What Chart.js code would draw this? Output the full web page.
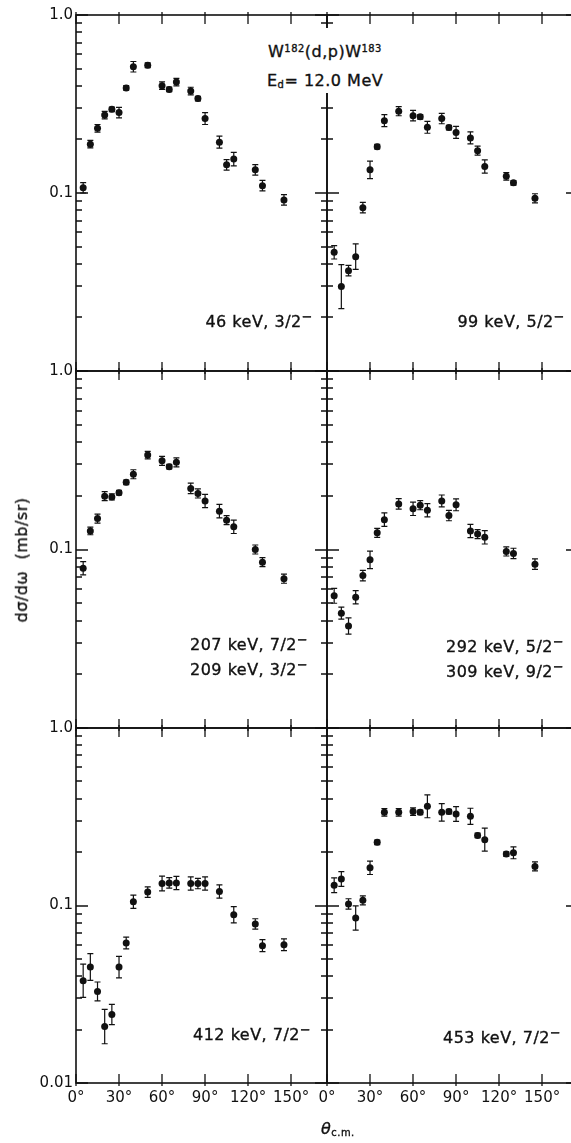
<!DOCTYPE html>
<html>
<head>
<meta charset="utf-8">
<script src="https://cdn.jsdelivr.net/npm/chart.js@4.4.1/dist/chart.umd.min.js"></script>
<style>
  html, body { margin: 0; padding: 0; background: #fff; }
  body { width: 571px; height: 1143px; overflow: hidden; position: relative;
         font-family: 'DejaVu Sans', sans-serif; color: #111; }
  canvas { position: absolute; }
  .lbl { position: absolute; font-size: 16px; letter-spacing: 0.5px; white-space: nowrap; line-height: 16px;
         -webkit-text-stroke: 0.35px #111; }
  .lbl sup { font-size: 0.8em; vertical-align: 0.45em; line-height: 0; }
  .ttl sup { font-size: 0.62em; vertical-align: 0.55em; line-height: 0; }
  .ttl sub { font-size: 0.62em; vertical-align: -0.25em; line-height: 0; }
  #titleBox { position: absolute; left: 262px; top: 28px; width: 130px; height: 65px; background: #fff; }
</style>
</head>
<body>
<canvas id="p46"></canvas>
<canvas id="p99"></canvas>
<canvas id="p207"></canvas>
<canvas id="p292"></canvas>
<canvas id="p412"></canvas>
<canvas id="p453"></canvas>

<div id="titleBox"></div>
<div class="lbl ttl" style="left:268px; top:44px;">W<sup>182</sup>(d,p)W<sup>183</sup></div>
<div class="lbl ttl" style="left:267px; top:73px;">E<sub>d</sub>= 12.0 MeV</div>

<div class="lbl" style="right:258px; top:314px;">46 keV, 3/2<sup>−</sup></div>
<div class="lbl" style="right:6px; top:314px;">99 keV, 5/2<sup>−</sup></div>
<div class="lbl" style="left:190px; top:637px;">207 keV, 7/2<sup>−</sup></div>
<div class="lbl" style="left:190px; top:662px;">209 keV, 3/2<sup>−</sup></div>
<div class="lbl" style="left:446px; top:639px;">292 keV, 5/2<sup>−</sup></div>
<div class="lbl" style="left:446px; top:664px;">309 keV, 9/2<sup>−</sup></div>
<div class="lbl" style="left:193px; top:1027px;">412 keV, 7/2<sup>−</sup></div>
<div class="lbl" style="left:443px; top:1030px;">453 keV, 7/2<sup>−</sup></div>

<div class="lbl" style="left:22px; top:560px; transform: translate(-50%,-50%) rotate(-90deg);">dσ/dω&nbsp;&nbsp;(mb/sr)</div>
<div class="lbl ttl" style="left:321px; top:1121px;"><i>θ</i><sub>c.m.</sub></div>

<script>
// angles (deg, c.m.)
const anglesA = [5, 10, 15, 20, 25, 30, 35, 40, 50, 60, 65, 70, 80, 85, 90, 100, 105, 110, 125, 130, 145];
const anglesB = [5, 10, 15, 20, 25, 30, 35, 40, 50, 60, 65, 70, 80, 85, 90, 100, 110, 125, 130, 145];

// cross sections (mb/sr) and errors (%)
const level46  = [0.107, 0.188, 0.231, 0.274, 0.295, 0.283, 0.389, 0.512, 0.522, 0.401, 0.382, 0.420, 0.374, 0.339, 0.262, 0.193, 0.144, 0.155, 0.135, 0.110, 0.0914];
const err46    = [7, 5, 5, 5, 3, 7, 3, 7, 3, 5, 3, 5, 5, 3, 8, 8, 7, 9, 7, 7, 7];
const level99  = [0.0464, 0.0298, 0.0366, 0.0439, 0.0827, 0.135, 0.182, 0.255, 0.288, 0.272, 0.268, 0.234, 0.262, 0.233, 0.219, 0.204, 0.173, 0.141, 0.124, 0.114, 0.0934];
const err99    = [9, 33, 7, 18, 7, 12, 3, 8, 6, 7, 3, 8, 7, 3, 8, 8, 6, 9, 5, 3, 6];
const level207 = [0.0785, 0.127, 0.149, 0.199, 0.197, 0.208, 0.238, 0.264, 0.338, 0.314, 0.291, 0.308, 0.220, 0.206, 0.187, 0.164, 0.146, 0.134, 0.100, 0.0849, 0.0686];
const err207   = [9, 5, 6, 6, 4, 3, 3, 6, 5, 6, 3, 6, 7, 6, 9, 9, 6, 9, 6, 6, 6];
const level292 = [0.0550, 0.0440, 0.0373, 0.0540, 0.0714, 0.0875, 0.124, 0.147, 0.180, 0.169, 0.177, 0.166, 0.187, 0.155, 0.178, 0.127, 0.122, 0.117, 0.0975, 0.0950, 0.0828];
const err292   = [10, 8, 11, 9, 7, 12, 6, 9, 7, 9, 6, 9, 8, 7, 8, 9, 6, 9, 6, 7, 7];
const level412 = [0.0377, 0.0450, 0.0328, 0.0208, 0.0243, 0.0450, 0.0615, 0.105, 0.119, 0.133, 0.134, 0.134, 0.133, 0.133, 0.133, 0.120, 0.0887, 0.0787, 0.0594, 0.0601];
const err412   = [24, 19, 13, 25, 14, 15, 8, 9, 7, 10, 7, 9, 9, 7, 9, 9, 11, 7, 8, 8];
const level453 = [0.130, 0.141, 0.102, 0.0851, 0.107, 0.163, 0.227, 0.335, 0.335, 0.338, 0.335, 0.362, 0.335, 0.338, 0.328, 0.318, 0.248, 0.235, 0.195, 0.198, 0.166];
const err453   = [10, 10, 7, 17, 6, 9, 3, 5, 5, 5, 3, 16, 12, 3, 10, 11, 3, 16, 3, 8, 6];

// ticks
const yTickValues = [0.01, 0.02, 0.03, 0.04, 0.05, 0.06, 0.07, 0.08, 0.09,
                     0.1, 0.2, 0.3, 0.4, 0.5, 0.6, 0.7, 0.8, 0.9, 1];
const yLabelAt = [1, 0.1, 0.01];
const yTickLabels = ['1.0', '0.1', '0.01'];
const xTickValues = [0, 30, 60, 90, 120, 150];
const xTickLabels = ['0°', '30°', '60°', '90°', '120°', '150°'];

const ink = '#111';
const tickFont = { family: 'DejaVu Sans', size: 15 };

const framePlugin = {
  id: 'frame',
  afterDraw(chart) {
    const { ctx, chartArea: a } = chart;
    const x = chart.scales.x, y = chart.scales.y;
    ctx.save();
    ctx.strokeStyle = ink;
    ctx.lineWidth = 1.6;
    ctx.strokeRect(a.left, a.top, a.right - a.left, a.bottom - a.top);
    ctx.lineWidth = 1.3;
    ctx.beginPath();
    yTickValues.forEach(v => {
      const py = Math.round(y.getPixelForValue(v));
      const len = yLabelAt.includes(v) ? 12 : 6;
      ctx.moveTo(a.left, py); ctx.lineTo(a.left + len, py);
      ctx.moveTo(a.right, py); ctx.lineTo(a.right - len, py);
    });
    xTickValues.forEach(v => {
      const px = Math.round(x.getPixelForValue(v));
      ctx.moveTo(px, a.top - 3); ctx.lineTo(px, a.top + 9);
      ctx.moveTo(px, a.bottom + 3); ctx.lineTo(px, a.bottom - 9);
    });
    ctx.stroke();
    ctx.restore();
  }
};

const errorBars = {
  id: 'errorBars',
  beforeDatasetsDraw(chart, args, opts) {
    const { ctx } = chart;
    const x = chart.scales.x, y = chart.scales.y;
    const pts = chart.data.datasets[0].data;
    ctx.save();
    ctx.strokeStyle = ink;
    ctx.lineWidth = 1.2;
    ctx.beginPath();
    pts.forEach((p, i) => {
      const r = opts.errs[i] / 100;
      const px = x.getPixelForValue(p.x);
      const hi = y.getPixelForValue(p.y * (1 + r));
      const lo = y.getPixelForValue(p.y / (1 + r));
      ctx.moveTo(px, hi); ctx.lineTo(px, lo);
      ctx.moveTo(px - 3, hi); ctx.lineTo(px + 3, hi);
      ctx.moveTo(px - 3, lo); ctx.lineTo(px + 3, lo);
    });
    ctx.stroke();
    ctx.restore();
  }
};

const colL = { left: 76, right: 327 };
const colR = { left: 327, right: 578 };
const rows = [{ top: 15, bottom: 371 }, { top: 371, bottom: 728 }, { top: 728, bottom: 1083 }];

function makePanel(id, col, row, angles, values, errs) {
  const isLeft = col === colL;
  const isBottom = row === rows[2];
  const pad = 12;
  const padL = isLeft ? 0 : 24;
  const axisH = 32;
  const cLeft = col.left - (isLeft ? col.left : padL);
  const cTop = row.top - pad;
  const w = col.right + pad - cLeft;
  const h = row.bottom - row.top + pad + (isBottom ? axisH : pad);
  const cv = document.getElementById(id);
  cv.style.left = cLeft + 'px';
  cv.style.top = cTop + 'px';
  cv.width = w;
  cv.height = h;

  new Chart(cv, {
    type: 'scatter',
    data: {
      datasets: [{
        data: angles.map((a, i) => ({ x: a, y: values[i] })),
        pointRadius: 3.5,
        pointHoverRadius: 3.5,
        backgroundColor: ink,
        borderColor: ink,
        borderWidth: 0
      }]
    },
    options: {
      responsive: false,
      animation: false,
      devicePixelRatio: 1,
      events: [],
      layout: { padding: { left: padL, right: pad, top: pad, bottom: isBottom ? 0 : pad } },
      plugins: {
        legend: { display: false },
        tooltip: { enabled: false },
        errorBars: { errs: errs }
      },
      scales: {
        x: {
          type: 'linear', min: 0, max: 175,
          display: isBottom,
          afterBuildTicks: s => { s.ticks = xTickValues.map(v => ({ value: v })); },
          afterFit: s => { s.height = isBottom ? axisH : 0; },
          grid: { display: false, drawTicks: false },
          border: { display: false },
          ticks: {
            autoSkip: false, maxRotation: 0, padding: 6,
            font: tickFont, color: ink,
            callback: v => xTickLabels[xTickValues.indexOf(v)]
          }
        },
        y: {
          type: 'logarithmic', min: 0.01, max: 1,
          display: isLeft,
          afterBuildTicks: s => { s.ticks = yTickValues.map(v => ({ value: v })); },
          afterFit: s => { s.width = isLeft ? col.left : 0; },
          grid: { display: false, drawTicks: false },
          border: { display: false },
          ticks: {
            autoSkip: false, padding: 3,
            font: tickFont, color: ink,
            callback: v => {
              const k = yLabelAt.indexOf(v);
              if (k < 0) return '';
              if (v === 0.01 && !isBottom) return '';
              return yTickLabels[k];
            }
          }
        }
      }
    },
    plugins: [errorBars, framePlugin]
  });
}

makePanel('p46',  colL, rows[0], anglesA, level46,  err46);
makePanel('p99',  colR, rows[0], anglesA, level99,  err99);
makePanel('p207', colL, rows[1], anglesA, level207, err207);
makePanel('p292', colR, rows[1], anglesA, level292, err292);
makePanel('p412', colL, rows[2], anglesB, level412, err412);
makePanel('p453', colR, rows[2], anglesA, level453, err453);
</script>
</body>
</html>
